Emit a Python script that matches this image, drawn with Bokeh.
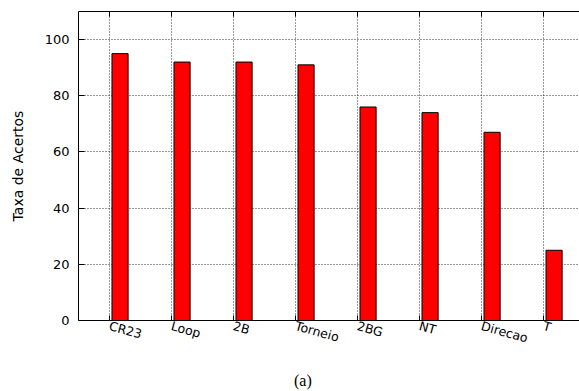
from bokeh.plotting import figure
from bokeh.models import FixedTicker, LinearAxis, Range1d, Grid, Div
from bokeh.layouts import column
from bokeh.embed import file_html
from bokeh.resources import INLINE

categories = ["CR23", "Loop", "2B", "Torneio", "2BG", "NT", "Direcao", "T"]
values = [95, 92, 92, 91, 76, 74, 67, 25]
y_ticks = [0, 20, 40, 60, 80, 100]

positions = list(range(len(categories)))
bar_offset = 0.17
bar_width = 0.26
bar_x = [i + bar_offset for i in positions]

p = figure(width=579, height=372, output_backend="svg", toolbar_location=None,
           x_range=Range1d(-0.5, 7.58), y_range=Range1d(0, 110),
           min_border_left=78, min_border_right=0, min_border_top=11, min_border_bottom=52,
           x_axis_type=None, y_axis_type=None,
           outline_line_color=None, outline_line_alpha=0, outline_line_width=0)
p.background_fill_color = "white"
p.border_fill_color = "white"

font = "DejaVu Sans"

# grids
xg = Grid(dimension=0, ticker=FixedTicker(ticks=positions))
yg = Grid(dimension=1, ticker=FixedTicker(ticks=y_ticks[1:]))
for g in (xg, yg):
    g.grid_line_color = "#333333"
    g.grid_line_dash = "1 2"
    g.grid_line_width = 1
    p.add_layout(g, "center")

# bottom axis
xb = LinearAxis(ticker=FixedTicker(ticks=positions),
                major_label_overrides={i: c for i, c in zip(positions, categories)})
xb.major_label_orientation = -0.27
xb.major_label_text_font = font
xb.major_label_text_font_size = "12.5px"
xb.major_label_text_color = "black"
xb.major_label_standoff = 5
xb.major_tick_in = 5
xb.major_tick_out = 0
xb.minor_tick_line_color = None
xb.axis_line_color = "black"
xb.major_tick_line_color = "black"
p.add_layout(xb, "below")

# top axis (frame border with ticks, no labels)
xt = LinearAxis(ticker=FixedTicker(ticks=positions))
xt.major_label_text_color = None
xt.major_label_text_font_size = "1px"
xt.major_label_standoff = 0
xt.major_tick_in = 5
xt.major_tick_out = 0
xt.minor_tick_line_color = None
xt.axis_line_color = "black"
xt.major_tick_line_color = "black"
p.add_layout(xt, "above")

# left axis
yl = LinearAxis(ticker=FixedTicker(ticks=y_ticks), axis_label="Taxa de Acertos")
yl.major_label_text_font = font
yl.major_label_text_font_size = "13px"
yl.major_label_text_color = "black"
yl.major_label_standoff = 9
yl.major_tick_in = 6
yl.major_tick_out = 0
yl.minor_tick_line_color = None
yl.axis_line_color = "black"
yl.major_tick_line_color = "black"
yl.axis_label_text_font = font
yl.axis_label_text_font_size = "14px"
yl.axis_label_text_font_style = "normal"
yl.axis_label_text_color = "black"
yl.axis_label_standoff = 16
p.add_layout(yl, "left")

p.vbar(x=bar_x, top=values, bottom=0, width=bar_width,
       fill_color="#ff0000", line_color="black", line_width=1)

caption = Div(text='<div style="padding-left:294px;font-family:\'Liberation Serif\';'
                   'font-size:16px;line-height:18px;color:black">(a)</div>',
              width=579, height=19, margin=0)

layout = column(p, caption, spacing=0)

open("out.html", "w").write(file_html(layout, INLINE))
